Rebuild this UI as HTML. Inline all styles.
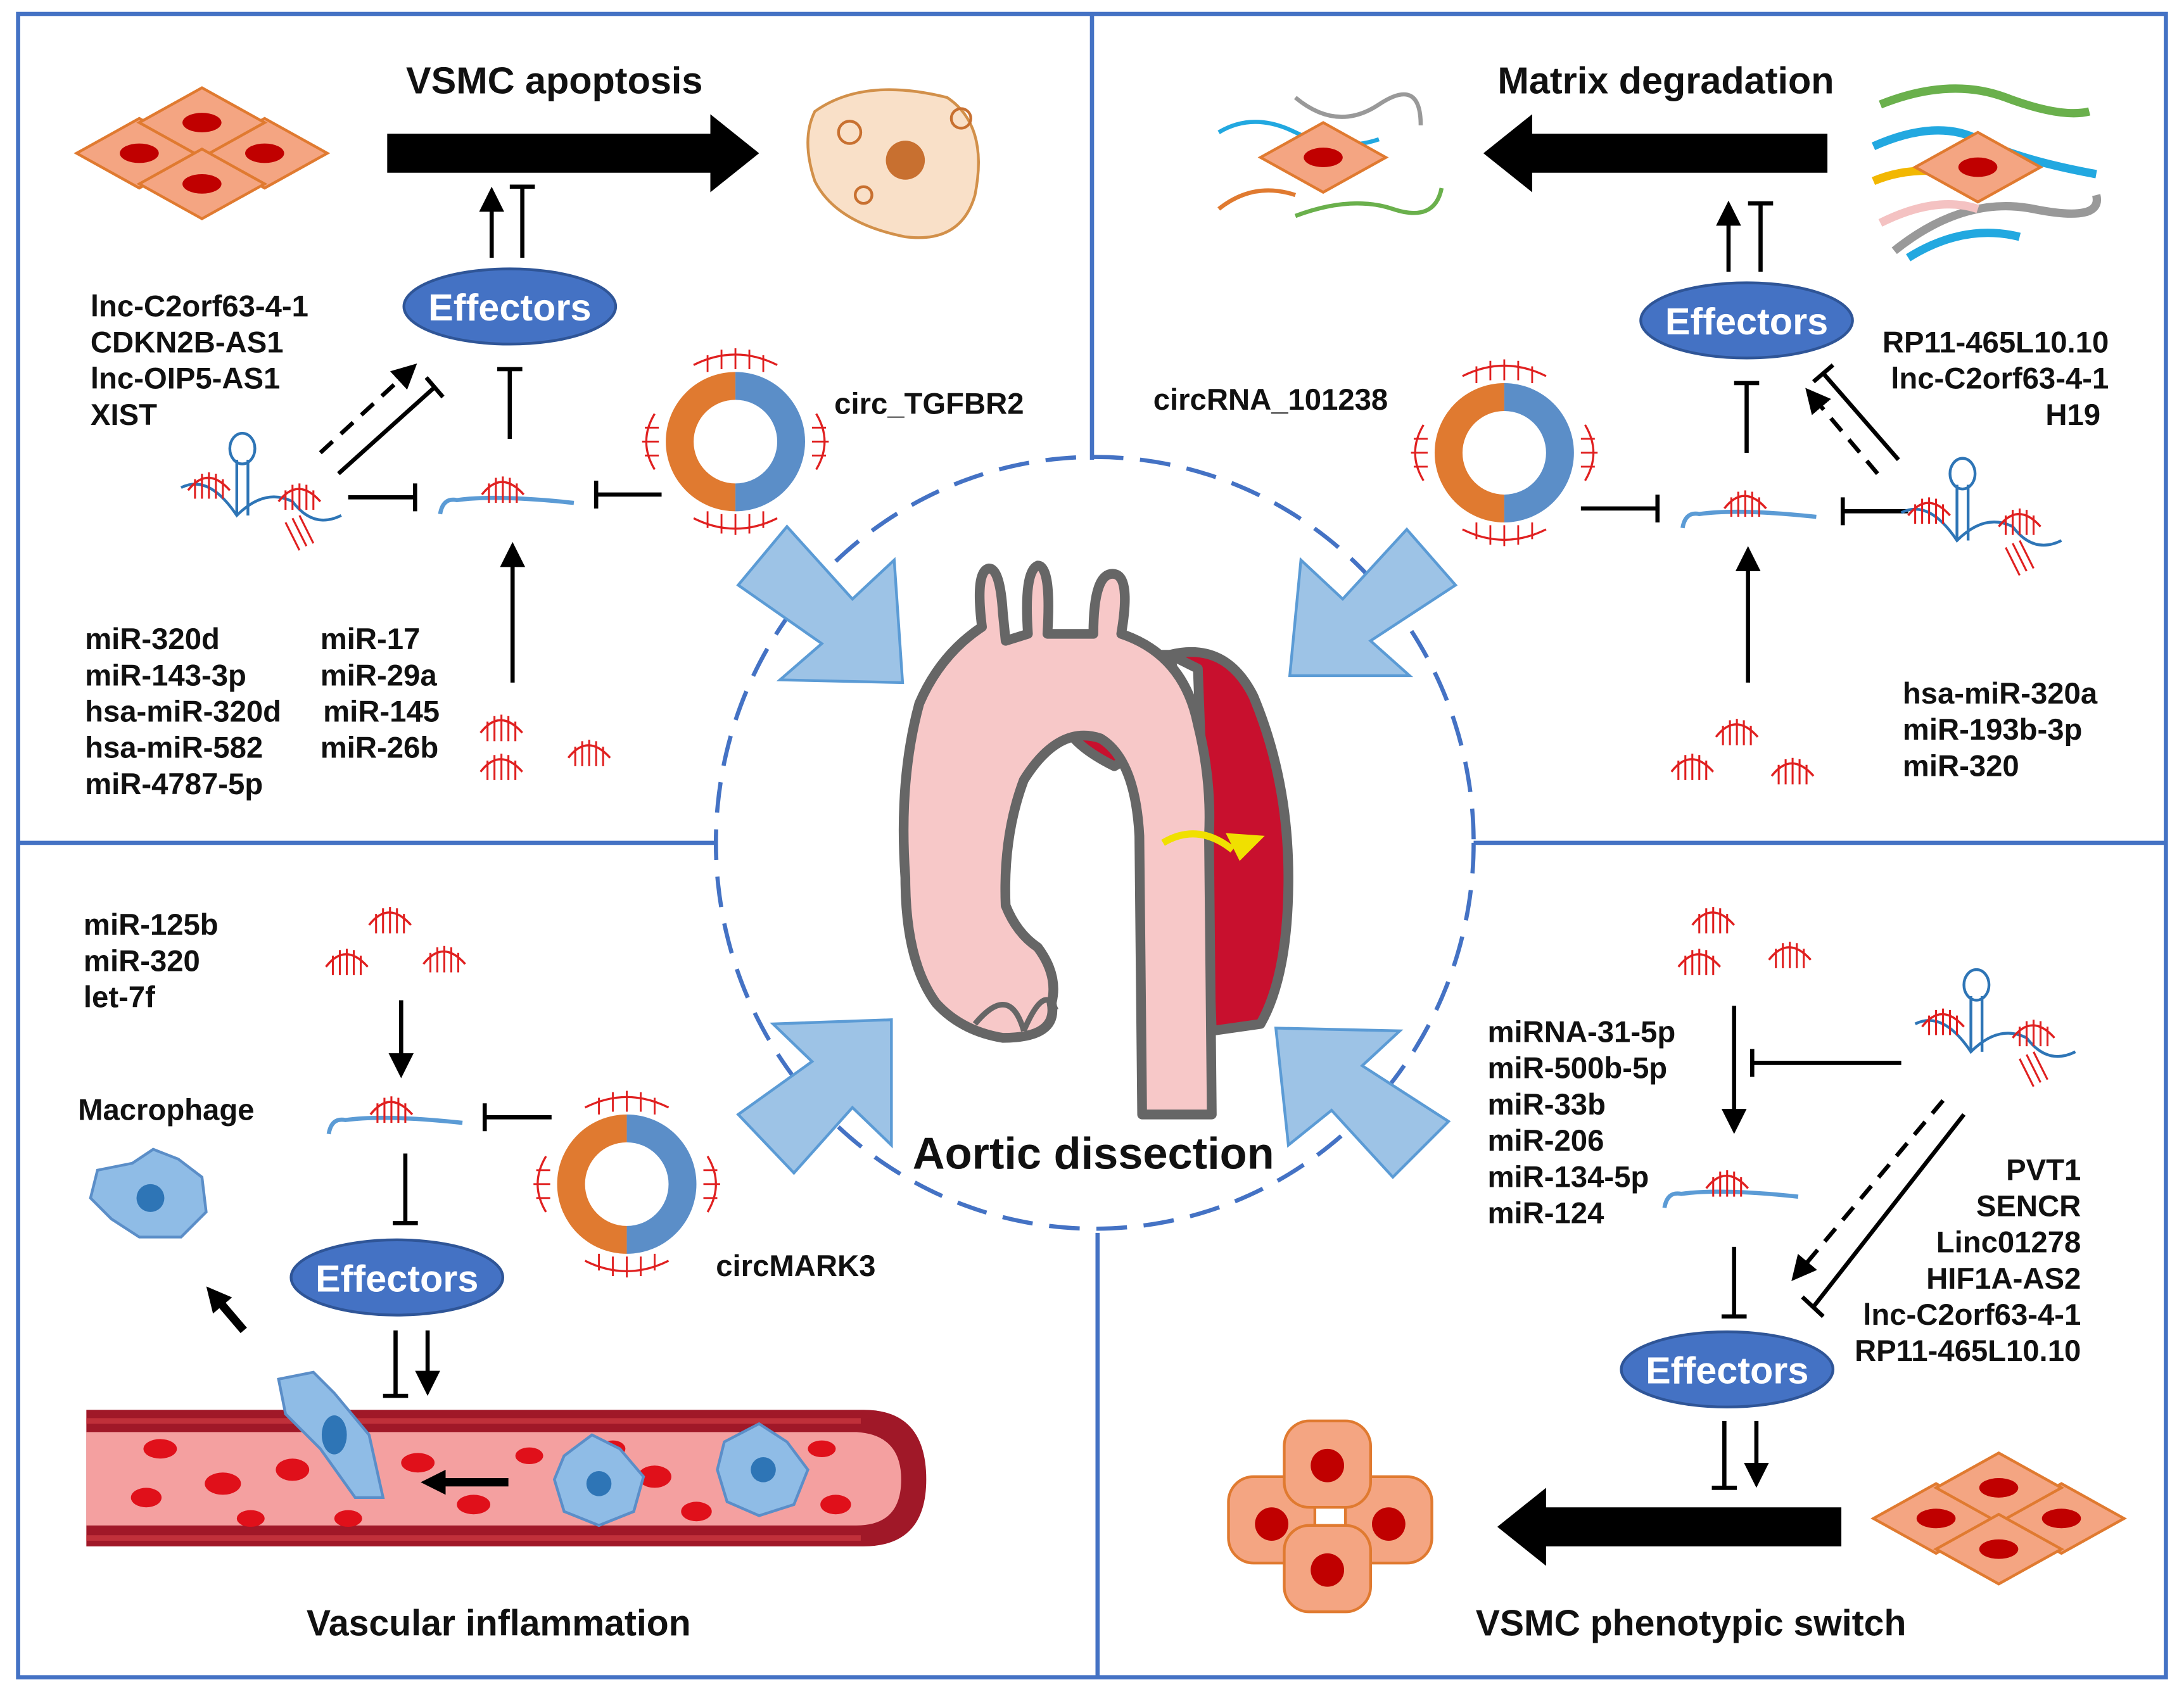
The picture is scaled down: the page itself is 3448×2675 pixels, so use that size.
<!DOCTYPE html>
<html><head><meta charset="utf-8"><style>
html,body{margin:0;padding:0;background:#fff}
svg{display:block}
text{font-family:"Liberation Sans",Arial,sans-serif;font-weight:bold;fill:#111}
</style></head><body>
<svg width="3448" height="2675" viewBox="0 0 1568 1216" preserveAspectRatio="none" xmlns="http://www.w3.org/2000/svg">
<defs>
<marker id="ah" markerWidth="6" markerHeight="6" refX="4" refY="3" orient="auto" markerUnits="strokeWidth"><path d="M0,0 L6,3 L0,6 z" fill="#000"/></marker>
<marker id="ah2" markerWidth="3" markerHeight="3" refX="2" refY="1.5" orient="auto" markerUnits="strokeWidth"><path d="M0,0 L3,1.5 L0,3 z" fill="#000"/></marker>
<g id="mi"><path d="M0,14 Q14,-4 30,14" fill="none" stroke="#e02020" stroke-width="1.6"/>
<path d="M5,6 v14 M10,2 v18 M15,1 v19 M20,2 v18 M25,6 v14" stroke="#e02020" stroke-width="1.4"/></g>
<g id="mrna"><path d="M0,14 Q2,2 12,4 Q40,0 96,6" fill="none" stroke="#5b9bd5" stroke-width="3"/><use href="#mi" x="30" y="-14"/></g>
<g id="lnc"><path d="M48,60 L48,20 M40,60 L40,20" stroke="#2e75b6" stroke-width="2"/><ellipse cx="44" cy="12" rx="9" ry="11" fill="none" stroke="#2e75b6" stroke-width="2"/>
<path d="M0,40 Q20,30 40,60 Q60,40 80,50 Q95,70 115,60" fill="none" stroke="#2e75b6" stroke-width="2"/>
<g transform="translate(5,28)"><use href="#mi"/></g><g transform="translate(70,36)"><use href="#mi"/></g>
<path d="M75,65 l10,20 M80,62 l10,20 M85,60 l10,20" stroke="#e02020" stroke-width="1.4"/></g>
<g id="circ"><path d="M50,0 A50,50 0 0 0 50,100 L50,80 A30,30 0 0 1 50,20 z" fill="#e07a30"/>
<path d="M50,0 A50,50 0 0 1 50,100 L50,80 A30,30 0 0 0 50,20 z" fill="#5b8ec8"/>
<path d="M20,-5 Q50,-20 80,-5 M20,105 Q50,120 80,105 M-8,30 Q-20,50 -8,70 M108,30 Q120,50 108,70" fill="none" stroke="#e02020" stroke-width="1.5"/>
<path d="M30,-12v12M40,-16v14M50,-17v15M60,-16v14M70,-12v12M30,100v12M40,102v14M50,102v15M60,102v14M70,100v12M-15,40h10M-17,50h12M-15,60h10M105,40h10M105,50h12M105,60h10" stroke="#e02020" stroke-width="1.3"/></g>
<g id="eff"><ellipse cx="0" cy="0" rx="76" ry="27" fill="#4472c4" stroke="#2f5597" stroke-width="2"/><text x="0" y="10" text-anchor="middle" font-size="27" style="fill:#fff">Effectors</text></g>
<g id="cell"><path d="M-45,0 L0,-25 L45,0 L0,25 z" fill="#f4a582" stroke="#e07a30" stroke-width="2"/><ellipse cx="0" cy="0" rx="14" ry="7" fill="#c00000"/></g>
</defs>
<rect x="0" y="0" width="1568" height="1216" fill="#fff"/>
<g stroke="#4472c4" stroke-width="3" fill="none">
<rect x="13" y="10" width="1542" height="1194"/>
<path d="M784,10 V330 M13,605 H515 M1058,605 H1555 M788,885 V1204"/>
</g>
<ellipse cx="786" cy="605" rx="272" ry="277" fill="none" stroke="#4472c4" stroke-width="3" stroke-dasharray="22,12"/>

<!-- Top left -->
<text x="398" y="67" text-anchor="middle" font-size="27">VSMC apoptosis</text>
<path d="M278,96 H510 V82 L545,110 L510,138 V124 H278 z" fill="#000"/>
<g transform="translate(145,110)"><use href="#cell" x="-45" y="0"/><use href="#cell" x="45" y="0"/><use href="#cell" x="0" y="-22"/><use href="#cell" x="0" y="22"/></g>
<g><path d="M585,80 Q620,55 680,70 Q710,90 700,140 Q690,175 650,170 Q600,160 585,130 Q575,100 585,80z" fill="#f9e0c8" stroke="#d2904a" stroke-width="2"/>
<circle cx="650" cy="115" r="14" fill="#c87030"/><circle cx="610" cy="95" r="8" fill="none" stroke="#c87030" stroke-width="2"/><circle cx="690" cy="85" r="7" fill="none" stroke="#c87030" stroke-width="2"/><circle cx="620" cy="140" r="6" fill="none" stroke="#c87030" stroke-width="2"/></g>
<line x1="353" y1="185" x2="353" y2="140" stroke="#000" stroke-width="3" marker-end="url(#ah)"/>
<path d="M375,185 V134 M366,134 H384" stroke="#000" stroke-width="3"/>
<use href="#eff" x="366" y="220"/>
<g font-size="21.5"><text x="65" y="227">lnc-C2orf63-4-1</text>
<text x="65" y="253">CDKN2B-AS1</text>
<text x="65" y="279">lnc-OIP5-AS1</text>
<text x="65" y="305">XIST</text></g>
<path d="M366,315 V265 M357,265 H375" stroke="#000" stroke-width="3"/>
<line x1="230" y1="325" x2="295" y2="265" stroke="#000" stroke-width="3" stroke-dasharray="12,8" marker-end="url(#ah)"/>
<path d="M243,340 L312,278 M306,271 L318,285" stroke="#000" stroke-width="3"/>
<use href="#lnc" x="130" y="310"/>
<path d="M250,357 H298 M298,347 V367" stroke="#000" stroke-width="3"/>
<use href="#mrna" x="316" y="355"/>
<path d="M475,355 H428 M428,345 V365" stroke="#000" stroke-width="3"/>
<use href="#circ" x="478" y="267"/>
<text font-size="21.5" x="599" y="297">circ_TGFBR2</text>
<line x1="368" y1="490" x2="368" y2="395" stroke="#000" stroke-width="3" marker-end="url(#ah)"/>
<use href="#mi" x="345" y="512"/><use href="#mi" x="345" y="540"/><use href="#mi" x="408" y="530"/>
<g font-size="21.5"><text x="61" y="466">miR-320d</text><text x="61" y="492">miR-143-3p</text><text x="61" y="518">hsa-miR-320d</text><text x="61" y="544">hsa-miR-582</text><text x="61" y="570">miR-4787-5p</text>
<text x="230" y="466">miR-17</text><text x="230" y="492">miR-29a</text><text x="232" y="518">miR-145</text><text x="230" y="544">miR-26b</text></g>

<!-- Top right -->
<text x="1196" y="67" text-anchor="middle" font-size="27">Matrix degradation</text>
<path d="M1312,96 H1100 V82 L1065,110 L1100,138 V124 H1312 z" fill="#000"/>
<g fill="none" stroke-width="3"><path d="M875,95 Q900,80 930,95 T990,100" stroke="#22a8e0"/><path d="M930,70 Q960,95 990,75 T1020,90" stroke="#999"/><path d="M875,150 Q900,130 930,140" stroke="#e07a30"/><path d="M930,155 Q970,140 1000,150 T1035,135" stroke="#6ab04c"/></g>
<use href="#cell" x="950" y="113"/>
<g fill="none" stroke-width="6"><path d="M1350,75 Q1400,55 1440,70 T1500,80" stroke="#6ab04c"/><path d="M1345,105 Q1390,85 1420,100 T1505,125" stroke="#22a8e0"/><path d="M1345,130 Q1380,115 1430,130" stroke="#f2b701"/><path d="M1360,180 Q1410,140 1460,150 T1505,140" stroke="#999"/><path d="M1350,160 Q1390,140 1420,150" stroke="#f4c2c2"/><path d="M1370,185 Q1410,160 1450,170" stroke="#22a8e0"/></g>
<use href="#cell" x="1420" y="120"/>
<line x1="1241" y1="195" x2="1241" y2="150" stroke="#000" stroke-width="3" marker-end="url(#ah)"/>
<path d="M1264,195 V146 M1255,146 H1273" stroke="#000" stroke-width="3"/>
<use href="#eff" x="1254" y="230"/>
<g font-size="21.5" text-anchor="end"><text x="1514" y="253">RP11-465L10.10</text><text x="1514" y="279">lnc-C2orf63-4-1</text><text x="1508" y="305">H19</text></g>
<text font-size="21.5" x="828" y="294">circRNA_101238</text>
<path d="M1254,325 V275 M1245,275 H1263" stroke="#000" stroke-width="3"/>
<line x1="1348" y1="340" x2="1300" y2="283" stroke="#000" stroke-width="3" stroke-dasharray="12,8" marker-end="url(#ah)"/>
<path d="M1363,330 L1309,268 M1302,274 L1316,262" stroke="#000" stroke-width="3"/>
<use href="#circ" x="1030" y="275"/>
<path d="M1135,365 H1190 M1190,355 V375" stroke="#000" stroke-width="3"/>
<use href="#mrna" x="1208" y="365"/>
<path d="M1370,367 H1323 M1323,357 V377" stroke="#000" stroke-width="3"/>
<use href="#lnc" x="1365" y="328"/>
<line x1="1255" y1="490" x2="1255" y2="398" stroke="#000" stroke-width="3" marker-end="url(#ah)"/>
<use href="#mi" x="1232" y="515"/><use href="#mi" x="1200" y="540"/><use href="#mi" x="1272" y="543"/>
<g font-size="21.5"><text x="1366" y="505">hsa-miR-320a</text><text x="1366" y="531">miR-193b-3p</text><text x="1366" y="557">miR-320</text></g>

<!-- Bottom left -->
<g font-size="21.5"><text x="60" y="671">miR-125b</text><text x="60" y="697">miR-320</text><text x="60" y="723">let-7f</text><text x="56" y="804">Macrophage</text></g>
<use href="#mi" x="265" y="650"/><use href="#mi" x="234" y="680"/><use href="#mi" x="304" y="678"/>
<line x1="288" y1="718" x2="288" y2="768" stroke="#000" stroke-width="3" marker-end="url(#ah)"/>
<use href="#mrna" x="236" y="800"/>
<path d="M396,802 H348 M348,792 V812" stroke="#000" stroke-width="3"/>
<use href="#circ" x="400" y="800"/>
<text font-size="21.5" x="514" y="916">circMARK3</text>
<path d="M291,828 V878 M282,878 H300" stroke="#000" stroke-width="3"/>
<use href="#eff" x="285" y="917"/>
<path d="M284,955 V1002 M275,1002 H293" stroke="#000" stroke-width="3"/>
<line x1="307" y1="955" x2="307" y2="996" stroke="#000" stroke-width="3" marker-end="url(#ah)"/>
<path d="M95,835 L110,825 L128,832 L145,845 L148,870 L130,888 L100,888 L80,875 L65,860 L70,840z" fill="#8fbce6" stroke="#5b8ec8" stroke-width="2"/><circle cx="108" cy="860" r="10" fill="#2e75b6"/>
<line x1="175" y1="955" x2="152" y2="928" stroke="#000" stroke-width="6" marker-end="url(#ah2)"/>
<path d="M62,1012 H620 Q665,1012 665,1062 Q665,1110 620,1110 H62 z" fill="#a01828"/>
<path d="M62,1028 H615 Q647,1030 647,1062 Q647,1095 615,1095 H62 z" fill="#f4a0a0"/>
<path d="M62,1020 H618 M62,1104 H618" stroke="#c0303a" stroke-width="4"/>
<g fill="#e0101a"><ellipse cx="115" cy="1040" rx="12" ry="7"/><ellipse cx="160" cy="1065" rx="13" ry="8"/><ellipse cx="105" cy="1075" rx="11" ry="7"/><ellipse cx="210" cy="1055" rx="12" ry="8"/><ellipse cx="180" cy="1090" rx="10" ry="6"/><ellipse cx="300" cy="1050" rx="12" ry="7"/><ellipse cx="340" cy="1080" rx="12" ry="7"/><ellipse cx="380" cy="1045" rx="10" ry="6"/><ellipse cx="470" cy="1060" rx="12" ry="8"/><ellipse cx="500" cy="1085" rx="11" ry="7"/><ellipse cx="590" cy="1040" rx="10" ry="6"/><ellipse cx="600" cy="1080" rx="11" ry="7"/><ellipse cx="250" cy="1090" rx="10" ry="6"/><ellipse cx="440" cy="1040" rx="9" ry="6"/></g>
<path d="M200,990 L225,985 L240,1000 L265,1030 L275,1075 L255,1075 L230,1040 L205,1015z" fill="#8fbce6" stroke="#5b8ec8" stroke-width="2"/><ellipse cx="240" cy="1030" rx="9" ry="14" fill="#2e75b6"/>
<path d="M405,1045 L425,1030 L445,1040 L462,1060 L455,1085 L430,1095 L405,1085 L398,1062z" fill="#8fbce6" stroke="#5b8ec8" stroke-width="2"/><circle cx="430" cy="1065" r="9" fill="#2e75b6"/>
<path d="M520,1035 L545,1022 L565,1035 L580,1055 L570,1080 L545,1088 L522,1078 L515,1055z" fill="#8fbce6" stroke="#5b8ec8" stroke-width="2"/><circle cx="548" cy="1055" r="9" fill="#2e75b6"/>
<line x1="365" y1="1064" x2="308" y2="1064" stroke="#000" stroke-width="6" marker-end="url(#ah2)"/>
<text x="358" y="1174" text-anchor="middle" font-size="26">Vascular inflammation</text>

<!-- Bottom right -->
<use href="#mi" x="1215" y="650"/><use href="#mi" x="1205" y="680"/><use href="#mi" x="1270" y="675"/>
<line x1="1245" y1="722" x2="1245" y2="808" stroke="#000" stroke-width="3" marker-end="url(#ah)"/>
<path d="M1365,763 H1258 M1258,753 V773" stroke="#000" stroke-width="3"/>
<use href="#lnc" x="1375" y="695"/>
<g font-size="21.5"><text x="1068" y="748">miRNA-31-5p</text><text x="1068" y="774">miR-500b-5p</text><text x="1068" y="800">miR-33b</text><text x="1068" y="826">miR-206</text><text x="1068" y="852">miR-134-5p</text><text x="1068" y="878">miR-124</text></g>
<use href="#mrna" x="1195" y="853"/>
<path d="M1245,895 V945 M1236,945 H1254" stroke="#000" stroke-width="3"/>
<line x1="1395" y1="790" x2="1290" y2="915" stroke="#000" stroke-width="3" stroke-dasharray="12,8" marker-end="url(#ah)"/>
<path d="M1410,800 L1302,938 M1294,931 L1309,945" stroke="#000" stroke-width="3"/>
<g font-size="21.5" text-anchor="end"><text x="1494" y="847">PVT1</text><text x="1494" y="873">SENCR</text><text x="1494" y="899">Linc01278</text><text x="1494" y="925">HIF1A-AS2</text><text x="1494" y="951">lnc-C2orf63-4-1</text><text x="1494" y="977">RP11-465L10.10</text></g>
<use href="#eff" x="1240" y="983"/>
<path d="M1238,1020 V1068 M1229,1068 H1247" stroke="#000" stroke-width="3"/>
<line x1="1261" y1="1020" x2="1261" y2="1062" stroke="#000" stroke-width="3" marker-end="url(#ah)"/>
<path d="M1322,1082 H1110 V1068 L1075,1096 L1110,1124 V1110 H1322 z" fill="#000"/>
<g fill="#f4a582" stroke="#e07a30" stroke-width="2"><rect x="882" y="1060" width="62" height="62" rx="18"/><rect x="966" y="1060" width="62" height="62" rx="18"/><rect x="922" y="1020" width="62" height="62" rx="18"/><rect x="922" y="1095" width="62" height="62" rx="18"/></g>
<g fill="#c00000"><circle cx="913" cy="1094" r="12"/><circle cx="997" cy="1094" r="12"/><circle cx="953" cy="1052" r="12"/><circle cx="953" cy="1127" r="12"/></g>
<g transform="translate(1435,1090)"><use href="#cell" x="-45" y="0"/><use href="#cell" x="45" y="0"/><use href="#cell" x="0" y="-22"/><use href="#cell" x="0" y="22"/></g>
<text x="1214" y="1174" text-anchor="middle" font-size="26">VSMC phenotypic switch</text>

<!-- Heart/aorta -->
<g stroke="#666" stroke-width="7" stroke-linejoin="round">
<path d="M840,470 Q880,460 900,500 Q925,560 925,630 Q925,700 905,735 L870,740 L860,480z" fill="#c8102e"/>
<path d="M765,495 L805,470 L840,470 L850,520 L800,550 Q770,535 765,520z" fill="#c8102e"/>
<path d="M705,450 Q700,410 710,408 Q718,408 720,440 L722,460 L738,455 Q735,410 745,406 Q755,406 752,455 L785,455 Q785,410 800,412 Q812,414 805,455 Q850,470 860,520 Q870,560 868,600 L870,800 L820,800 L818,600 Q815,545 790,530 Q760,520 735,560 Q720,600 722,650 Q730,670 745,680 Q760,700 755,720 Q760,745 720,745 Q690,740 672,720 Q650,690 650,630 Q645,560 660,505 Q675,470 705,450z" fill="#f7c8c8"/>
<path d="M700,735 Q725,705 735,740 M735,740 Q750,705 758,725" fill="none" stroke-width="4"/>
</g>
<path d="M835,605 Q860,590 885,610" fill="none" stroke="#f0e000" stroke-width="5"/><path d="M880,598 L908,600 L890,618z" fill="#f0e000"/>
<text x="785" y="839" text-anchor="middle" font-size="32">Aortic dissection</text>

<g fill="#9dc3e6" stroke="#5b9bd5" stroke-width="2">
<path d="M530,420 L565,378 L612,430 L642,402 L648,490 L560,488 L590,462z"/>
<path d="M1045,420 L1010,380 L964,430 L934,402 L926,485 L1012,485 L984,460z"/>
<path d="M530,800 L570,842 L612,795 L640,822 L640,732 L555,735 L583,762z"/>
<path d="M1040,805 L1000,845 L956,797 L925,822 L916,738 L1005,740 L978,765z"/>
</g>
</svg>
</body></html>
